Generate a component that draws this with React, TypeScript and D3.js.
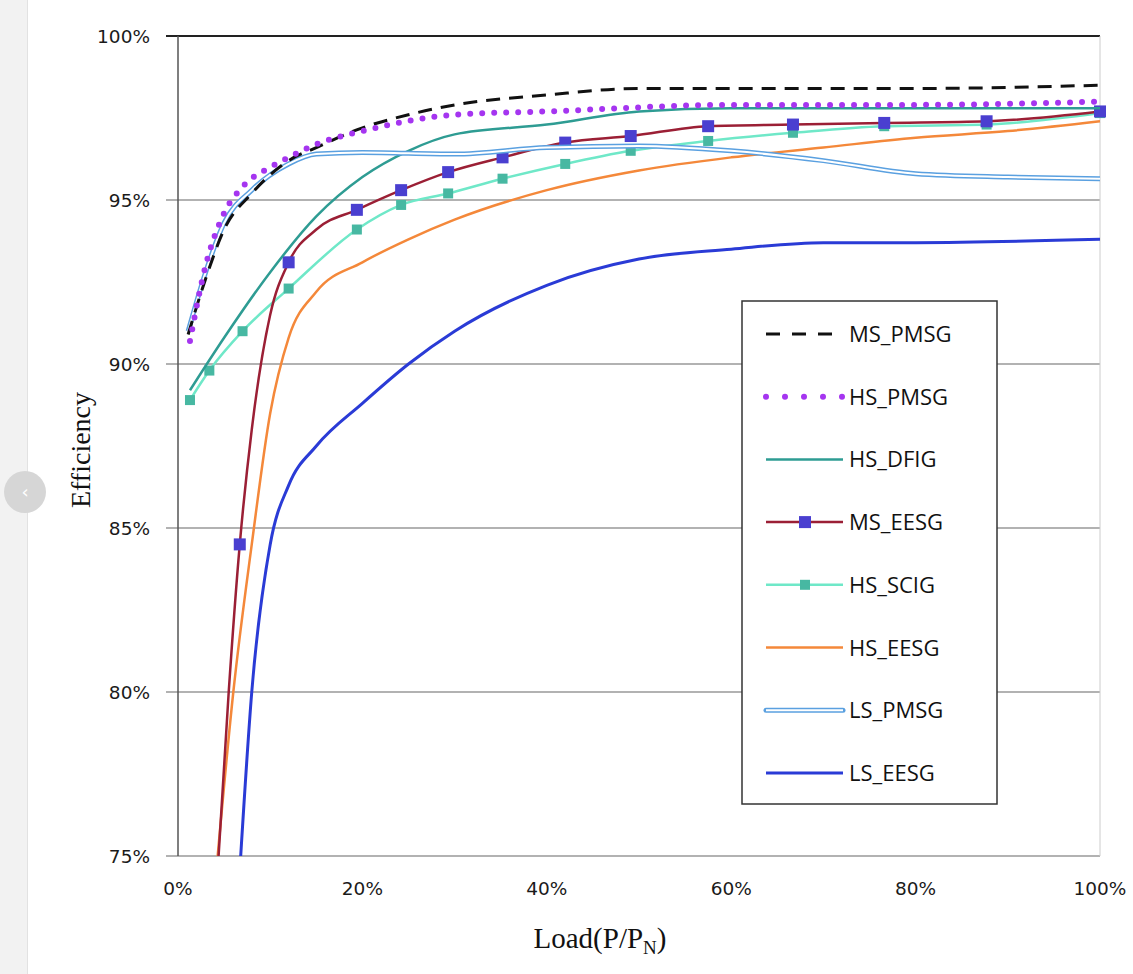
import React from "react";
import * as d3 from "d3";

const xTicks = [0, 20, 40, 60, 80, 100];
const yTicks = [75, 80, 85, 90, 95, 100];

const msPmsgX = [1.1, 3, 5, 8, 12, 15, 20, 25, 30, 40, 50, 60, 80, 100];
const msPmsgY = [90.9, 92.6, 94.1, 95.2, 96.2, 96.6, 97.2, 97.6, 97.9, 98.2, 98.4, 98.4, 98.4, 98.5];
const hsPmsgX = [1.3, 3, 5, 7, 10, 12, 15, 20, 30, 40, 60, 80, 100];
const hsPmsgY = [90.7, 93.0, 94.6, 95.4, 96.0, 96.3, 96.7, 97.1, 97.6, 97.7, 97.9, 97.9, 98.0];
const hsDfigX = [1.3, 5, 10, 15, 20, 25, 30, 40, 50, 60, 100];
const hsDfigY = [89.2, 90.8, 92.8, 94.5, 95.7, 96.5, 97.0, 97.3, 97.7, 97.8, 97.8];
const msEesgX = [4.4, 5.5, 6.7, 8, 10, 12, 15, 19.4, 24.2, 29.3, 35.2, 42, 49.1, 57.5, 66.7, 76.6, 87.7, 100];
const msEesgY = [75, 80, 84.5, 88, 91.5, 93.1, 94.1, 94.7, 95.3, 95.85, 96.3, 96.75, 96.95, 97.25, 97.3, 97.35, 97.4, 97.7];
const msEesgMarkers = [false, false, true, false, false, true, false, true, true, true, true, true, true, true, true, true, true, true];
const hsScigX = [1.3, 3.4, 7, 12, 19.4, 24.2, 29.3, 35.2, 42, 49.1, 57.5, 66.7, 76.6, 87.7, 100];
const hsScigY = [88.9, 89.8, 91.0, 92.3, 94.1, 94.85, 95.2, 95.65, 96.1, 96.5, 96.8, 97.05, 97.25, 97.3, 97.65];
const hsEesgX = [4.3, 6, 8, 10, 12, 15, 20, 25, 30, 40, 50, 60, 70, 80, 90, 100];
const hsEesgY = [75, 80, 84.5, 88.5, 90.8, 92.2, 93.1, 93.8, 94.4, 95.3, 95.9, 96.3, 96.6, 96.9, 97.1, 97.4];
const lsPmsgX = [1.1, 3, 5, 8, 12, 15, 20, 30, 40, 50, 60, 70, 80, 90, 100];
const lsPmsgY = [91.0, 92.8, 94.3, 95.3, 96.1, 96.4, 96.45, 96.4, 96.6, 96.65, 96.5, 96.2, 95.8, 95.7, 95.65];
const lsEesgX = [6.8, 8, 10, 12, 15, 20, 25, 30, 40, 50, 60, 70, 80, 100];
const lsEesgY = [75, 80, 84.5, 86.3, 87.5, 88.8, 90.0, 91.0, 92.4, 93.2, 93.5, 93.7, 93.7, 93.8];

const legendNames = ["MS_PMSG", "HS_PMSG", "HS_DFIG", "MS_EESG", "HS_SCIG", "HS_EESG", "LS_PMSG", "LS_EESG"];

const x = d3.scaleLinear().domain([0, 100]).range([178, 1100]);
const y = d3.scaleLinear().domain([75, 100]).range([856, 36]);
const line = d3.line<[number, number]>().x(d => x(d[0])).y(d => y(d[1])).curve(d3.curveMonotoneX);
const pts = (xs: number[], ys: number[]) => xs.map((v, i) => [v, ys[i]] as [number, number]);

export default function App() {
  const tick = { fontFamily: "DejaVu Sans, Verdana, sans-serif", fontSize: 18.5, fill: "#1a1a1a" };
  const leg = { fontFamily: "Open Sans, DejaVu Sans, sans-serif", fontSize: 22, fill: "#111" };
  const ly = (i: number) => 334 + i * 62.7;
  return (
    <svg width={1133} height={974} style={{ position: "absolute", left: 0, top: 0 }}>
      <rect width={1133} height={974} fill="#fff" />
      <rect width={27} height={974} fill="#f2f2f2" />
      <line x1={27.5} y1={0} x2={27.5} y2={974} stroke="#e2e2e2" />
      <circle cx={25} cy={492} r={21} fill="#d6d6d6" />
      <text x={25} y={498} textAnchor="middle" fontSize={18} fill="#fff" fontFamily="DejaVu Sans">‹</text>
      <defs>
        <clipPath id="pc"><rect x={178} y={30} width={930} height={826} /></clipPath>
      </defs>
      {yTicks.map(t => (
        <g key={t}>
          <line x1={166} x2={1100} y1={y(t)} y2={y(t)} stroke={t === 100 ? "#222" : "#999"} strokeWidth={t === 100 ? 2 : 1.5} />
          <text x={150} y={y(t) + 7} textAnchor="end" {...tick}>{t}%</text>
        </g>
      ))}
      <line x1={178} x2={178} y1={36} y2={856} stroke="#555" strokeWidth={1.5} />
      <line x1={1100} x2={1100} y1={36} y2={856} stroke="#ccc" strokeWidth={1} />
      {xTicks.map(t => (
        <text key={t} x={x(t)} y={895} textAnchor="middle" {...tick}>{t}%</text>
      ))}
      <text transform="translate(90,450) rotate(-90)" textAnchor="middle" fontFamily="Liberation Serif, serif" fontSize={28} fill="#111">Efficiency</text>
      <text x={600} y={948} textAnchor="middle" fontFamily="Liberation Serif, serif" fontSize={29} fill="#111">
        Load(P/P<tspan fontSize={19} dy={6}>N</tspan><tspan dy={-6}>)</tspan>
      </text>
      <g clipPath="url(#pc)" fill="none">
        <path d={line(pts(lsEesgX, lsEesgY))!} stroke="#2a3bd6" strokeWidth={3} />
        <path d={line(pts(hsEesgX, hsEesgY))!} stroke="#f4883a" strokeWidth={2.5} />
        <path d={line(pts(hsScigX, hsScigY))!} stroke="#6fe8c8" strokeWidth={2.5} />
        {hsScigX.map((v, i) => <rect key={i} x={x(v) - 5} y={y(hsScigY[i]) - 5} width={10} height={10} fill="#47b8a2" />)}
        <path d={line(pts(msEesgX, msEesgY))!} stroke="#9b1f35" strokeWidth={2.5} />
        {msEesgX.map((v, i) => msEesgMarkers[i] ? <rect key={i} x={x(v) - 6} y={y(msEesgY[i]) - 6} width={12} height={12} fill="#4a3fd0" /> : null)}
        <path d={line(pts(hsDfigX, hsDfigY))!} stroke="#2e9c93" strokeWidth={2.5} />
        <path d={line(pts(lsPmsgX, lsPmsgY))!} stroke="#5aa0e0" strokeWidth={5} />
        <path d={line(pts(lsPmsgX, lsPmsgY))!} stroke="#fff" strokeWidth={2} />
        <path d={line(pts(msPmsgX, msPmsgY))!} stroke="#111" strokeWidth={3} strokeDasharray="14 9" />
        <path d={line(pts(hsPmsgX, hsPmsgY))!} stroke="#a535f0" strokeWidth={6} strokeDasharray="0 12" strokeLinecap="round" />
      </g>
      <rect x={742} y={301} width={255} height={503} fill="#fff" stroke="#333" strokeWidth={1.5} />
      <g fill="none">
        <line x1={766} x2={843} y1={ly(0)} y2={ly(0)} stroke="#111" strokeWidth={3} strokeDasharray="14 12" />
        <line x1={766} x2={843} y1={ly(1)} y2={ly(1)} stroke="#a535f0" strokeWidth={6} strokeDasharray="0 19" strokeLinecap="round" />
        <line x1={766} x2={843} y1={ly(2)} y2={ly(2)} stroke="#2e9c93" strokeWidth={2.5} />
        <line x1={766} x2={843} y1={ly(3)} y2={ly(3)} stroke="#9b1f35" strokeWidth={2.5} />
        <rect x={799} y={ly(3) - 6} width={12} height={12} fill="#4a3fd0" />
        <line x1={766} x2={843} y1={ly(4)} y2={ly(4)} stroke="#6fe8c8" strokeWidth={2.5} />
        <rect x={800} y={ly(4) - 5} width={10} height={10} fill="#47b8a2" />
        <line x1={766} x2={843} y1={ly(5)} y2={ly(5)} stroke="#f4883a" strokeWidth={2.5} />
        <line x1={766} x2={843} y1={ly(6)} y2={ly(6)} stroke="#5aa0e0" strokeWidth={5} strokeLinecap="round" />
        <line x1={766} x2={843} y1={ly(6)} y2={ly(6)} stroke="#fff" strokeWidth={2} />
        <line x1={766} x2={843} y1={ly(7)} y2={ly(7)} stroke="#2a3bd6" strokeWidth={3} />
      </g>
      {legendNames.map((n, i) => (
        <text key={n} x={849} y={ly(i) + 8} {...leg}>{n}</text>
      ))}
    </svg>
  );
}
